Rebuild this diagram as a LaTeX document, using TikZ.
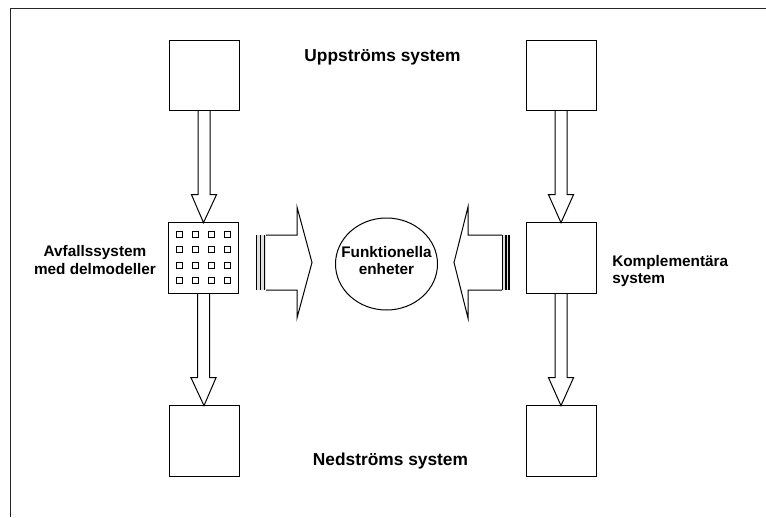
\documentclass[tikz,border=0pt]{standalone}
\usepackage{fontspec}
\setmainfont{Liberation Sans}
\usetikzlibrary{shapes.geometric,calc}

% vertical block arrow from the bottom of one box to the top of the next
\newcommand\downflow[2]{%
  \draw[blk] let \p1=(#1.south), \p2=(#2.north) in
    (\x1-4.5pt,\y1) -- (\x1-4.5pt,\y2+21pt) -- (\x1-9.4pt,\y2+21pt) --
    (\x2,\y2) -- (\x1+9.4pt,\y2+21pt) -- (\x1+4.5pt,\y2+21pt) -- (\x1+4.5pt,\y1);}

\begin{document}
\begin{tikzpicture}[x=0.75pt,y=-0.75pt,
  sysbox/.style={draw,line width=0.75pt,minimum width=52.5pt,minimum height=53pt,inner sep=0,outer sep=0},
  blk/.style={draw,line width=0.75pt,line join=miter},
  cell/.style={draw,line width=0.6pt,minimum size=4.5pt,inner sep=0},
  headtxt/.style={font=\bfseries\fontsize{13}{15}\selectfont,inner sep=0},
  lbl/.style={font=\bfseries\fontsize{11.5}{13.2}\selectfont,inner sep=0,align=center},
  flange/.style={line width=1.1pt},
  flangegap/.style={fill=gray!25}]
\useasboundingbox (0,0) rectangle (766,517);

% outer frame (top and left edges)
\draw[line width=0.75pt,black!85] (10.3,517) -- (10.3,8.3) -- (766,8.3);

% system boxes
\node[sysbox] (up1)  at (204,75.5) {};
\node[sysbox] (mid1) at (203.5,258) {};
\node[sysbox] (dn1)  at (204,441) {};
\node[sysbox] (up2)  at (561,75.5) {};
\node[sysbox] (mid2) at (561,258) {};
\node[sysbox] (dn2)  at (561,441) {};

% submodel grid inside the waste system box
\foreach \i/\dx in {1/-24,2/-8,3/8,4/24}
  \foreach \j/\dy in {1/-24,2/-8.5,3/7,4/22.5}
    \node[cell] (cell\i\j) at ($(mid1)+(\dx,\dy)$) {};

% vertical flows
\downflow{up1}{mid1}
\downflow{mid1}{dn1}
\downflow{up2}{mid2}
\downflow{mid2}{dn2}

% functional units
\node[draw,ellipse,line width=0.75pt,minimum width=76.5pt,minimum height=69pt,inner sep=0] (fe) at (386.5,264) {};
\node[lbl] (fet) at (386.5,260.5) {Funktionella\\enheter};

% block arrow towards the functional units, from the left
\coordinate (ra) at (266,262.5);
\fill[flangegap] (256,235) rectangle (266,290);
\draw[flange] (256.7,235) -- (256.7,290) (260.3,235) -- (260.3,290) (264.6,235) -- (264.6,290);
\draw[blk] (ra) ++(0,-27.5) -- ++(31,0) -- ++(0,-28) -- ++(15,55.5) -- ++(-15,55.5) -- ++(0,-28) -- ++(-31,0);

% block arrow towards the functional units, from the right
\coordinate (la) at (502,262.5);
\fill[flangegap] (502,235) rectangle (510,290);
\draw[flange] (502.4,235) -- (502.4,290) (505.8,235) -- (505.8,290) (509.2,235) -- (509.2,290);
\draw[blk] (la) ++(0,-27.5) -- ++(-34,0) -- ++(0,-28) -- ++(-14,55.5) -- ++(14,55.5) -- ++(0,-28) -- ++(34,0);

% labels
\node[headtxt] (ups)  at (382.5,57.5)  {Uppströms system};
\node[headtxt] (neds) at (390.5,461.5) {Nedströms system};
\node[lbl] (avf) at (95,260) {Avfallssystem\\med delmodeller};
\node[lbl,align=left,anchor=west] (kompl) at (612,271) {Komplementära\\system};
\end{tikzpicture}
\end{document}
